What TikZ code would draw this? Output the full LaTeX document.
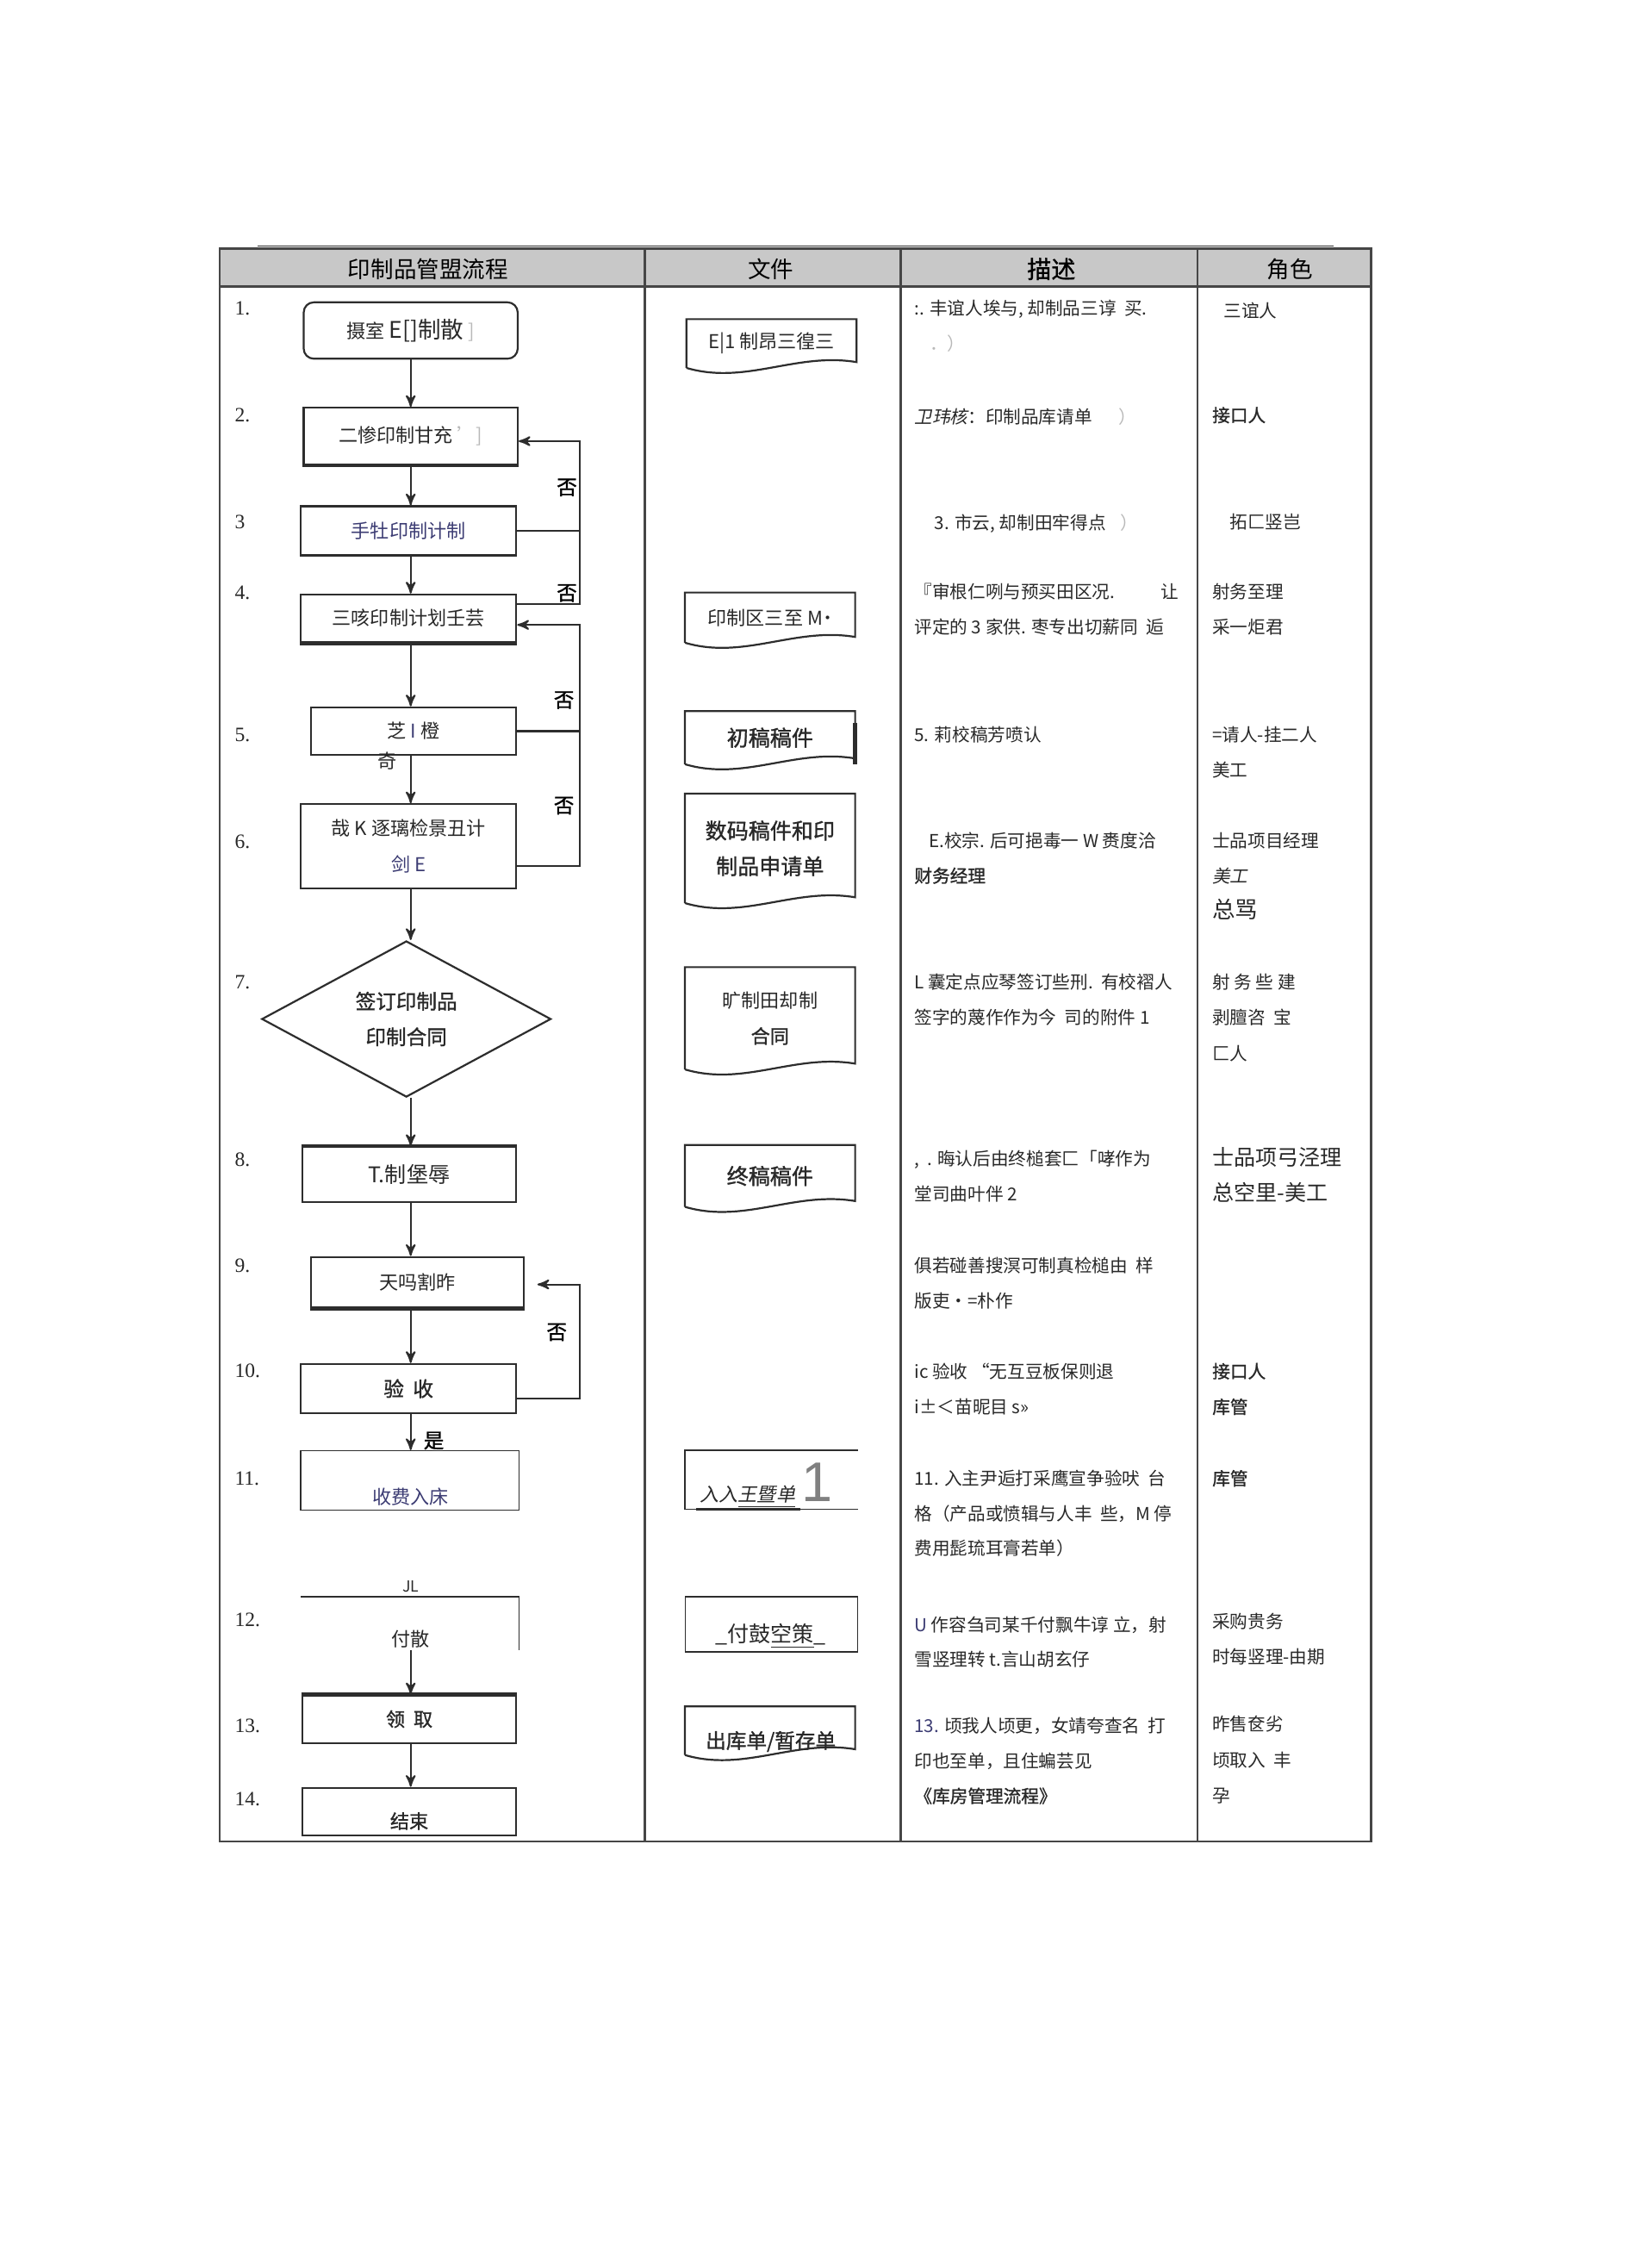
\documentclass[tikz,border=0pt]{standalone}
\usepackage{fontspec}
\setmainfont{Noto Sans CJK SC}
\newfontfamily\cjkb[FakeBold=1.2]{Noto Sans CJK SC}
\newfontfamily\cjki[FakeSlant=0.2]{Noto Sans CJK SC}
\newfontfamily\numserif{Liberation Serif}
\newfontfamily\numsans{Liberation Sans}
\usetikzlibrary{calc}
\usetikzlibrary{arrows}
\usetikzlibrary{shapes.geometric}
\definecolor{headgray}{RGB}{200,200,200}
\definecolor{framegray}{RGB}{70,70,70}
\definecolor{linedark}{RGB}{45,45,45}
\definecolor{txt}{RGB}{40,40,40}
\definecolor{txtblue}{RGB}{60,60,115}
\definecolor{faint}{RGB}{185,185,185}
\tikzset{
  tableline/.style={draw=framegray, line width=0.9pt},
  headtext/.style={inner sep=0pt, text=black, font=\fontsize{9}{10}\selectfont},
  stepnum/.style={anchor=west, inner sep=0pt, text=txt, font=\numserif\fontsize{8}{8}\selectfont},
  flowbox/.style={rectangle, draw=linedark, line width=0.75pt, inner sep=0pt, align=center, text=txt, font=\fontsize{7.5}{14}\selectfont},
  boxsize/.style 2 args={minimum width=#1*0.02cm, minimum height=#2*0.02cm},
  thickedge/.style={draw=linedark, line width=1.6pt},
  arr/.style={draw=linedark, line width=0.7pt, ->, >=stealth'},
  loopline/.style={draw=linedark, line width=0.7pt},
  nolabel/.style={inner sep=0pt, text=black, font=\cjkb\fontsize{8}{8}\selectfont},
  docnode/.style={rectangle, inner sep=0pt, align=center, text=txt, font=\fontsize{7.5}{14}\selectfont},
  docline/.style={draw=linedark, line width=0.75pt},
  desctext/.style={anchor=north west, inner sep=0pt, align=left, text=txt, font=\fontsize{7}{13.8}\selectfont},
  roletext/.style={anchor=north west, inner sep=0pt, align=left, text=txt, font=\fontsize{7}{14}\selectfont},
}
% document symbol round a named node
\newcommand{\docoutline}[1]{%
  \draw[docline] (#1.south west) -- (#1.north west) -- (#1.north east)
    -- ($(#1.south east)+(0,-4)$)
    .. controls ($(#1.south)+(17,-11)$) and ($(#1.south)+(-18,12)$) .. (#1.south west);
}

\begin{document}
\begin{tikzpicture}[x=0.02cm, y=-0.02cm]
\useasboundingbox (0,0) rectangle (1131,1568);

% table
\fill[headgray] (152,173) rectangle (948,198);
\draw[tableline] (152,172) rectangle (948,1273);
\draw[tableline] (152,198) -- (948,198);
\foreach \x in {446,623,828} {
  \draw[tableline] (\x,172) -- (\x,1273);
}
\draw[linedark, line width=0.5pt] (178,170) -- (922,170);

\node[headtext] (hflow) at (296,186) {印制品管盟流程};
\node[headtext] (hdoc) at (533,186) {文件};
\node[headtext, font=\cjkb\fontsize{9.5}{10}\selectfont] (hdesc) at (727,186) {描述};
\node[headtext] (hrole) at (892,186) {角色};

\foreach \n/\y in {1./213,2./287,3/361,4./410,5./508,6./582,7./679,8./802,9./875,10./948,11./1022,12./1120,13./1193,14./1244} {
  \node[stepnum] (num\y) at (162,\y) {\n};
}

% flow column
\node[flowbox, rounded corners=4pt, boxsize={148}{39}] (b1) at (284,228.5) {摄室 {\fontsize{9}{10}\selectfont E[]制散} {\color{faint}]}};
\node[flowbox, boxsize={148}{39}] (b2) at (284,301.5) {二惨印制甘充 {\color{faint}']}};
\node[flowbox, boxsize={149}{34}, text=txtblue] (b3) at (282.5,367) {手牡印制计制};
\node[flowbox, boxsize={149}{33}] (b4) at (282.5,427.5) {三咳印制计划壬芸};
\node[flowbox, boxsize={142}{33}] (b5) at (286,505.5) {芝 {\color{txtblue}I} 橙};
\node[inner sep=0pt, text=txt, font=\fontsize{7.5}{8}\selectfont] (b5x) at (268,526) {奇};
\node[flowbox, boxsize={149}{58}] (b6) at (282.5,585) {哉 K 逐璃检景丑计\\{\color{txtblue}剑 E}};
\node[flowbox, diamond, boxsize={200}{101}, font=\cjkb\fontsize{8}{14}\selectfont] (b7) at (281,704.5) {签订印制品\\印制合同};
\node[flowbox, boxsize={148}{38}, font=\fontsize{8.5}{10}\selectfont] (b8) at (283,812) {T.制堡辱};
\node[flowbox, boxsize={147}{35}] (b9) at (288.5,886.5) {天吗割昨};
\node[flowbox, boxsize={149}{34}, font=\cjkb\fontsize{8}{10}\selectfont] (b10) at (282.5,960) {验\ \ 收};
\node[flowbox, boxsize={151}{41}, line width=0.5pt] (b11) at (283.5,1023.5) {};
\node[inner sep=0pt, text=txtblue, font=\fontsize{7.5}{8}\selectfont] (t11) at (284,1035) {收费入床};
\coordinate (b12a) at (208,1104);
\coordinate (b12b) at (359,1104);
\coordinate (b12c) at (359,1141);
\coordinate (b12s) at (284,1141);
\draw[linedark, line width=0.5pt] (b12a) -- (b12b) -- (b12c);
\node[inner sep=0pt, text=txt, font=\fontsize{6}{7}\selectfont] (t12a) at (284,1097) {JL};
\node[inner sep=0pt, text=txt, font=\fontsize{7.5}{8}\selectfont] (t12) at (284,1133) {付散};
\node[flowbox, boxsize={148}{33}, font=\cjkb\fontsize{7.5}{10}\selectfont] (b13) at (283,1188.5) {领\ \ 取};
\node[flowbox, boxsize={148}{33}] (b14) at (283,1252.5) {};
\node[inner sep=0pt, text=txt, font=\cjkb\fontsize{7.5}{8}\selectfont] (t14) at (283,1259) {结束};

\draw[thickedge] (b2.south west) -- (b2.south east);
\draw[thickedge] (b4.south west) -- (b4.south east);
\draw[thickedge] (b8.north west) -- (b8.north east);
\draw[thickedge] (b9.south west) -- (b9.south east);
\draw[thickedge] (b13.north west) -- (b13.north east);

\foreach \a/\b in {b1/b2,b2/b3,b3/b4,b4/b5,b5/b6,b6/b7,b7/b8,b8/b9,b9/b10,b10/b11,b13/b14} {
  \draw[arr] (\a.south -| b1.south) -- (\b.north -| b1.south);
}
\draw[arr] (b12s) -- (b12s |- b13.north);
\node[nolabel] (yes10) at (300,996) {是};

% loops back
\coordinate (loopa) at (401,305);
\draw[loopline] (b3.east) -- (b3.east -| loopa);
\draw[arr] ($(b4.north east)+(0,7)$) -| (loopa) -- (loopa -| b2.east);
\coordinate (loopb) at (401,432);
\draw[loopline] (b5.east) -- (b5.east -| loopb);
\draw[arr] ($(b6.south east)+(0,-16)$) -| (loopb) -- (loopb -| b4.east);
\coordinate (loopc) at (401,888);
\draw[arr] ($(b10.south east)+(0,-11)$) -| (loopc) -- ($(loopc -| b9.east)+(9,0)$);
\node[nolabel] (no1) at (392,337) {否};
\node[nolabel] (no2) at (392,410) {否};
\node[nolabel] (no3) at (390,484) {否};
\node[nolabel] (no4) at (390,557) {否};
\node[nolabel] (no5) at (385,921) {否};

% documents
\node[docnode, boxsize={117}{33}] (d1) at (533.5,237.5) {E|1 制昂三徨三};
\docoutline{d1}
\node[docnode, boxsize={117}{34}] (d4) at (532.5,427) {印制区三至 M˙};
\docoutline{d4}
\node[docnode, boxsize={117}{36}, font=\cjkb\fontsize{8.5}{14}\selectfont] (d5) at (532.5,510) {初稿稿件};
\docoutline{d5}
\draw[thickedge] ($(d5.north east)+(0,8)$) -- (d5.south east);
\node[docnode, boxsize={117}{75}, font=\cjkb\fontsize{8.5}{14}\selectfont] (d6) at (532.5,586.5) {数码稿件和印\\制品申请单};
\docoutline{d6}
\node[docnode, boxsize={117}{70}] (d7) at (532.5,704) {旷制田却制\\{\cjkb 合同}};
\docoutline{d7}
\node[docnode, boxsize={117}{42}, font=\cjkb\fontsize{8.5}{14}\selectfont] (d8) at (532.5,813) {终稿稿件};
\docoutline{d8}
\node[docnode, boxsize={119}{40}] (d11) at (533.5,1023) {};
\draw[docline, line width=0.5pt] (d11.north east) -- (d11.north west) -- (d11.south west) -- (d11.south east);
\draw[thickedge, line width=1.2pt] ($(d11.south west)+(8,0)$) -- ($(d11.south west)+(80,0)$);
\node[inner sep=0pt, text=txt, font=\cjki\fontsize{7.5}{8}\selectfont] (t11d) at (517,1035) {入入\underline{王暨单}};
\node[inner sep=0pt, text=gray, font=\numsans\fontsize{22}{22}\selectfont] (t11n) at (565,1025) {1};
\node[docnode, draw=linedark, line width=0.5pt, boxsize={119}{38}] (d12) at (533.5,1123) {};
\node[inner sep=0pt, text=txt, font=\fontsize{8.5}{9}\selectfont] (t12d) at (533,1131) {\_付鼓\underline{空策}\_};
\node[docnode, boxsize={117}{33}] (d13) at (532.5,1196.5) {};
\docoutline{d13}
\node[inner sep=0pt, text=txt, font=\cjkb\fontsize{8}{9}\selectfont] (t13d) at (533,1204) {出库单/暂存单};

% descriptions
\node[desctext] (desc1) at (632,207) {:. 丰谊人埃与, 却制品三谆\ \ 买.\\\hspace*{6pt}{\color{faint}．）}};
\node[desctext] (desc2) at (632,282) {{\cjki 卫玮核}：印制品库请单\hspace{1.5em}{\color{faint}）}};
\node[desctext] (desc3) at (646,355) {3. 市云, 却制田牢得点\hspace{0.8em}{\color{faint}）}};
\node[desctext] (desc4) at (632,403) {『审根仁咧与预买田区况.\hspace{2.6em}让\\评定的 3 家供. 枣专出切薪同\ \ 逅};
\node[desctext] (desc5) at (632,502) {5. 莉校稿芳喷认};
\node[desctext] (desc6) at (632,575) {\hspace*{5.7pt}E.校宗. 后可挹毒一 W 赉度洽\\{\cjkb 财务经理}};
\node[desctext] (desc7) at (632,673) {L 囊定点应琴签订些刑.\ \ 有校褶人\\签字的蔑作作为今\ \ 司的附件 1};
\node[desctext] (desc8) at (632,795) {,\ \ . 晦认后由终槌套匚「哮作为\\堂司曲叶伴 2};
\node[desctext] (desc9) at (632,869) {俱若碰善搜溟可制真检槌由\ \ 样\\版吏•=朴作};
\node[desctext] (desc10) at (632,942) {ic 验收 “无互豆板保则退\\i±＜苗昵目 s»};
\node[desctext] (desc11) at (632,1016) {11. 入主尹逅打采鹰宣争验吠\ \ 台\\格（产品或愤辑与人丰\ \ 些，M 停\\费用髭琉耳膏若单）};
\node[desctext] (desc12) at (632,1117) {{\color{txtblue}U} 作容刍司某千付飘牛谆 立，射\\雪竖理转 t.言山胡玄仔};
\node[desctext] (desc13) at (632,1187) {{\color{txtblue}13.} 顷我人顷更，女靖夸查名\ \ 打\\印也至单，且住蝙芸见\\{\cjkb 《库房管理流程》}};

% roles
\node[roletext] (role1) at (846,209) {三谊人};
\node[roletext, font=\cjkb\fontsize{7}{14}\selectfont] (role2) at (838,281) {接口人};
\node[roletext] (role3) at (850,355) {拓匚竖岂};
\node[roletext] (role4) at (838,403) {射务至理\\采一炬君};
\node[roletext] (role5) at (838,502) {=请人-挂二人\\美工};
\node[roletext] (role6) at (838,575) {士品项目经理\\{\cjki 美工}\\{\fontsize{9}{14}\selectfont 总骂}};
\node[roletext] (role7) at (838,673) {射 务 些 建\\剥膻咨\ \ 宝\\匚人};
\node[roletext, font=\fontsize{8.5}{14}\selectfont] (role8) at (838,793) {士品项弓泾理\\总空里-美工};
\node[roletext, font=\cjkb\fontsize{7}{14}\selectfont] (role10) at (838,942) {接口人\\库管};
\node[roletext, font=\cjkb\fontsize{7}{14}\selectfont] (role11) at (838,1016) {库管};
\node[roletext] (role12) at (838,1115) {采购贵务\\时每竖理-由期};
\node[roletext] (role13) at (838,1186) {昨售奁劣\\顷取入\ \ 丰\\孕};
\end{tikzpicture}
\end{document}
